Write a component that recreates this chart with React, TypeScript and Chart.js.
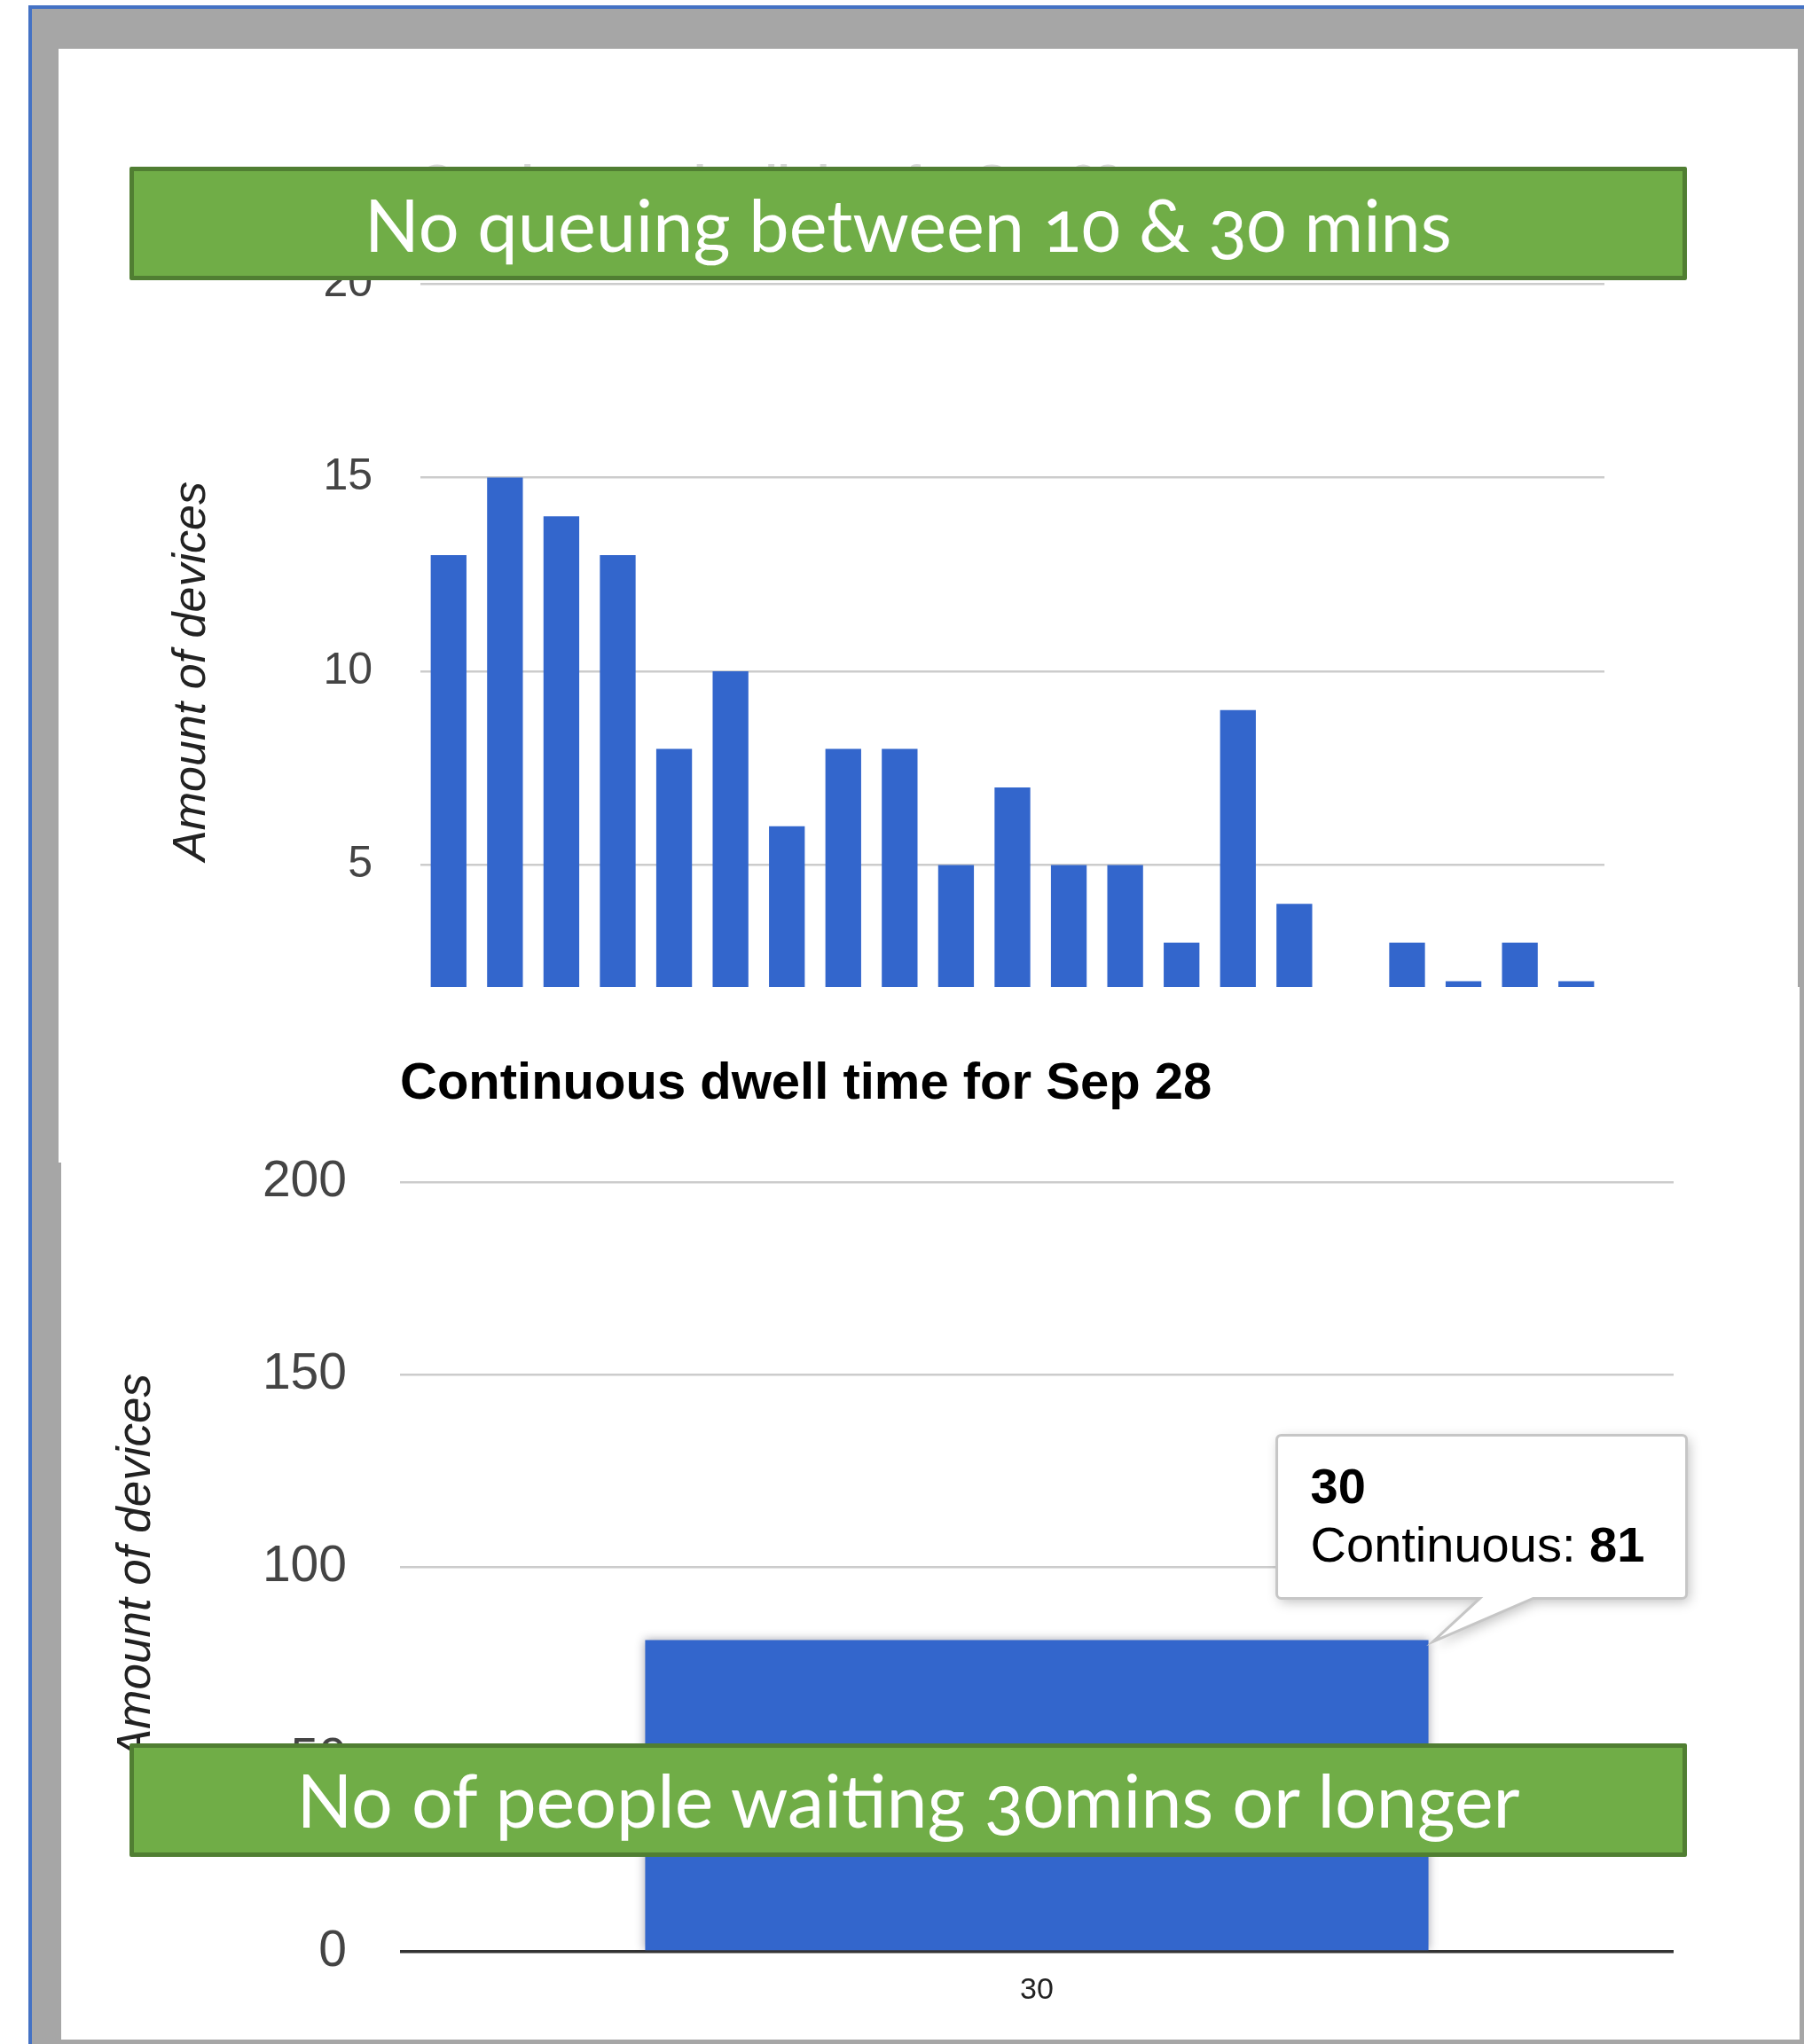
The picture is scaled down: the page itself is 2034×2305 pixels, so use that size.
import React, { useEffect, useRef } from 'react';
import { Chart, registerables } from 'chart.js';

Chart.register(...registerables);

// ---- data ----
const topCategories = ['10', '11', '12', '13', '14', '15', '16', '17', '18', '19', '20', '21', '22', '23', '24', '25', '26', '27', '28', '29', '30'];
const topValues = [13, 15, 14, 13, 8, 10, 6, 8, 8, 5, 7, 5, 5, 3, 9, 4, 1, 3, 2, 3, 2];
const topTicks = [0, 5, 10, 15, 20];

const bottomCategories = ['30'];
const bottomValues = [81];
const bottomTicks = [0, 50, 100, 150, 200];

const seriesName = 'Continuous';
const chartTitle = 'Continuous dwell time for Sep 28';
const axisTitle = 'Amount of devices';
const topBanner = 'No queuing between 10 & 30 mins';
const bottomBanner = 'No of people waiting 30mins or longer';

const ARIAL = 'Arial, "Liberation Sans", sans-serif';
const BAR_BLUE = '#3366CC';

function headingPlugin(text: string, font: string, color: string, gap: number) {
  return {
    id: 'heading',
    afterDraw(chart: any) {
      const { ctx, chartArea } = chart;
      ctx.save();
      ctx.font = font;
      ctx.fillStyle = color;
      ctx.textAlign = 'left';
      ctx.textBaseline = 'middle';
      ctx.fillText(text, chartArea.left, chartArea.top - gap);
      ctx.restore();
    },
  };
}

const glowPlugin = {
  id: 'glow',
  beforeDatasetDraw(chart: any) {
    const ctx = chart.ctx;
    ctx.save();
    ctx.shadowColor = 'rgba(60,60,80,0.45)';
    ctx.shadowBlur = 10;
  },
  afterDatasetDraw(chart: any) {
    chart.ctx.restore();
  },
};

const calloutPlugin = {
  id: 'callout',
  afterDraw(chart: any) {
    const ctx = chart.ctx;
    const meta = chart.getDatasetMeta(0);
    const bar = meta.data[0];
    if (!bar) return;
    const { x, y, width } = bar.getProps(['x', 'y', 'width'], true);
    const right = x + width / 2;
    const bx = right - 171;
    const by = y - 231;
    const bw = 462;
    const bh = 184;
    const r = 5;
    ctx.save();
    ctx.beginPath();
    ctx.moveTo(bx + r, by);
    ctx.lineTo(bx + bw - r, by);
    ctx.arcTo(bx + bw, by, bx + bw, by + r, r);
    ctx.lineTo(bx + bw, by + bh - r);
    ctx.arcTo(bx + bw, by + bh, bx + bw - r, by + bh, r);
    ctx.lineTo(right + 118, by + bh);
    ctx.lineTo(right + 5, y + 2);
    ctx.lineTo(right + 58, by + bh);
    ctx.lineTo(bx + r, by + bh);
    ctx.arcTo(bx, by + bh, bx, by + bh - r, r);
    ctx.lineTo(bx, by + r);
    ctx.arcTo(bx, by, bx + r, by, r);
    ctx.closePath();
    ctx.shadowColor = 'rgba(0,0,0,0.25)';
    ctx.shadowBlur = 14;
    ctx.shadowOffsetX = 3;
    ctx.shadowOffsetY = 4;
    ctx.fillStyle = '#ffffff';
    ctx.fill();
    ctx.shadowColor = 'transparent';
    ctx.strokeStyle = '#c6c6c6';
    ctx.lineWidth = 3;
    ctx.stroke();

    const label = String(chart.data.labels[0]);
    const value = String(chart.data.datasets[0].data[0]);
    ctx.fillStyle = '#000000';
    ctx.textAlign = 'left';
    ctx.textBaseline = 'alphabetic';
    ctx.font = `bold 56px ${ARIAL}`;
    ctx.fillText(label, bx + 38, by + 77);
    ctx.font = `56px ${ARIAL}`;
    const lead = seriesName + ': ';
    ctx.fillText(lead, bx + 38, by + 143);
    const w = ctx.measureText(lead).width;
    ctx.font = `bold 56px ${ARIAL}`;
    ctx.fillText(value, bx + 38 + w, by + 143);
    ctx.restore();
  },
};

function TopChart() {
  const ref = useRef<HTMLCanvasElement>(null);
  useEffect(() => {
    const chart = new Chart(ref.current as HTMLCanvasElement, {
      type: 'bar',
      data: {
        labels: topCategories,
        datasets: [
          {
            label: seriesName,
            data: topValues,
            backgroundColor: BAR_BLUE,
            barPercentage: 0.634,
            categoryPercentage: 1,
          },
        ],
      },
      options: {
        responsive: false,
        animation: false,
        events: [],
        layout: { padding: { top: 265, right: 218, bottom: 101, left: 0 } },
        plugins: { legend: { display: false }, tooltip: { enabled: false } },
        scales: {
          x: { display: false },
          y: {
            min: 0,
            max: 20,
            afterBuildTicks: (s: any) => {
              s.ticks = topTicks.map((v) => ({ value: v }));
            },
            afterFit: (s: any) => {
              s.width = 408;
            },
            border: { display: false },
            grid: { color: '#cccccc', lineWidth: 2.5, drawTicks: false },
            ticks: {
              padding: 54,
              color: '#444444',
              font: { family: ARIAL, size: 50 },
            },
            title: {
              display: true,
              text: axisTitle,
              color: '#222222',
              font: { family: ARIAL, size: 52, style: 'italic' },
              padding: { top: 119, bottom: 0 },
            },
          },
        },
      },
      plugins: [headingPlugin(chartTitle, `bold 50px ${ARIAL}`, '#d8d8d8', 113)],
    } as any);
    return () => chart.destroy();
  }, []);
  return <canvas ref={ref} width={1961} height={1240} style={{ width: 1961, height: 1240, display: 'block' }} />;
}

function BottomChart() {
  const ref = useRef<HTMLCanvasElement>(null);
  useEffect(() => {
    const chart = new Chart(ref.current as HTMLCanvasElement, {
      type: 'bar',
      data: {
        labels: bottomCategories,
        datasets: [
          {
            label: seriesName,
            data: bottomValues,
            backgroundColor: BAR_BLUE,
            barPercentage: 0.615,
            categoryPercentage: 1,
          },
        ],
      },
      options: {
        responsive: false,
        animation: false,
        events: [],
        layout: { padding: { top: 220, right: 140, bottom: 39, left: 0 } },
        plugins: { legend: { display: false }, tooltip: { enabled: false } },
        scales: {
          x: {
            border: { display: false },
            grid: { display: false, drawTicks: false },
            afterFit: (s: any) => {
              s.height = 60;
            },
            ticks: {
              padding: 23,
              color: '#222222',
              font: { family: ARIAL, size: 34 },
            },
          },
          y: {
            min: 0,
            max: 200,
            afterBuildTicks: (s: any) => {
              s.ticks = bottomTicks.map((v) => ({ value: v }));
            },
            afterFit: (s: any) => {
              s.width = 385;
            },
            border: { display: false },
            grid: {
              drawTicks: false,
              color: (c: any) => (c.tick && c.tick.value === 0 ? '#333333' : '#cccccc'),
              lineWidth: (c: any) => (c.tick && c.tick.value === 0 ? 3.5 : 2.5),
            },
            ticks: {
              padding: 60,
              color: '#444444',
              font: { family: ARIAL, size: 57 },
            },
            title: {
              display: true,
              text: axisTitle,
              color: '#222222',
              font: { family: ARIAL, size: 53, style: 'italic' },
              padding: { top: 56, bottom: 0 },
            },
          },
        },
      },
      plugins: [headingPlugin(chartTitle, `bold 58px ${ARIAL}`, '#000000', 110), glowPlugin, calloutPlugin],
    } as any);
    return () => chart.destroy();
  }, []);
  return <canvas ref={ref} width={1961} height={1187} style={{ width: 1961, height: 1187, display: 'block' }} />;
}

function Banner({ text, top, size }: { text: string; top: number; size: number }) {
  return (
    <div
      style={{
        position: 'absolute',
        left: 146,
        top,
        width: 1756,
        height: 128,
        boxSizing: 'border-box',
        background: '#70AD47',
        border: '5px solid #507E32',
        borderRadius: 2,
        display: 'flex',
        alignItems: 'center',
        justifyContent: 'center',
        color: '#ffffff',
        fontFamily: 'Lato, "Open Sans", sans-serif',
        fontSize: size,
        lineHeight: 1,
        fontVariantNumeric: 'oldstyle-nums',
        whiteSpace: 'nowrap',
        zIndex: 5,
      }}
    >
      {text}
    </div>
  );
}

export default function App() {
  return (
    <div
      style={{
        position: 'absolute',
        left: 0,
        top: 0,
        width: 2034,
        height: 2305,
        overflow: 'hidden',
        background: '#ffffff',
      }}
    >
      {/* frame */}
      <div
        style={{
          position: 'absolute',
          left: 32,
          top: 6,
          width: 2002,
          height: 2299,
          background: '#A6A6A6',
          borderLeft: '4px solid #4472C4',
          borderTop: '4px solid #4472C4',
          boxSizing: 'border-box',
        }}
      />
      {/* pasted screenshot panels */}
      <div style={{ position: 'absolute', left: 66, top: 55, width: 1961, height: 1058, background: '#fff' }} />
      <div style={{ position: 'absolute', left: 66, top: 1113, width: 1963, height: 198, background: '#fff' }} />
      <div style={{ position: 'absolute', left: 69, top: 1311, width: 1960, height: 989, background: '#fff' }} />

      {/* top chart, cropped at its lower edge */}
      <div style={{ position: 'absolute', left: 66, top: 55, width: 1961, height: 1058, overflow: 'hidden' }}>
        <TopChart />
      </div>
      {/* bottom chart */}
      <div style={{ position: 'absolute', left: 66, top: 1113, width: 1961, height: 1187, overflow: 'hidden' }}>
        <BottomChart />
      </div>

      <Banner text={topBanner} top={188} size={81} />
      <Banner text={bottomBanner} top={1966} size={82.5} />
    </div>
  );
}
